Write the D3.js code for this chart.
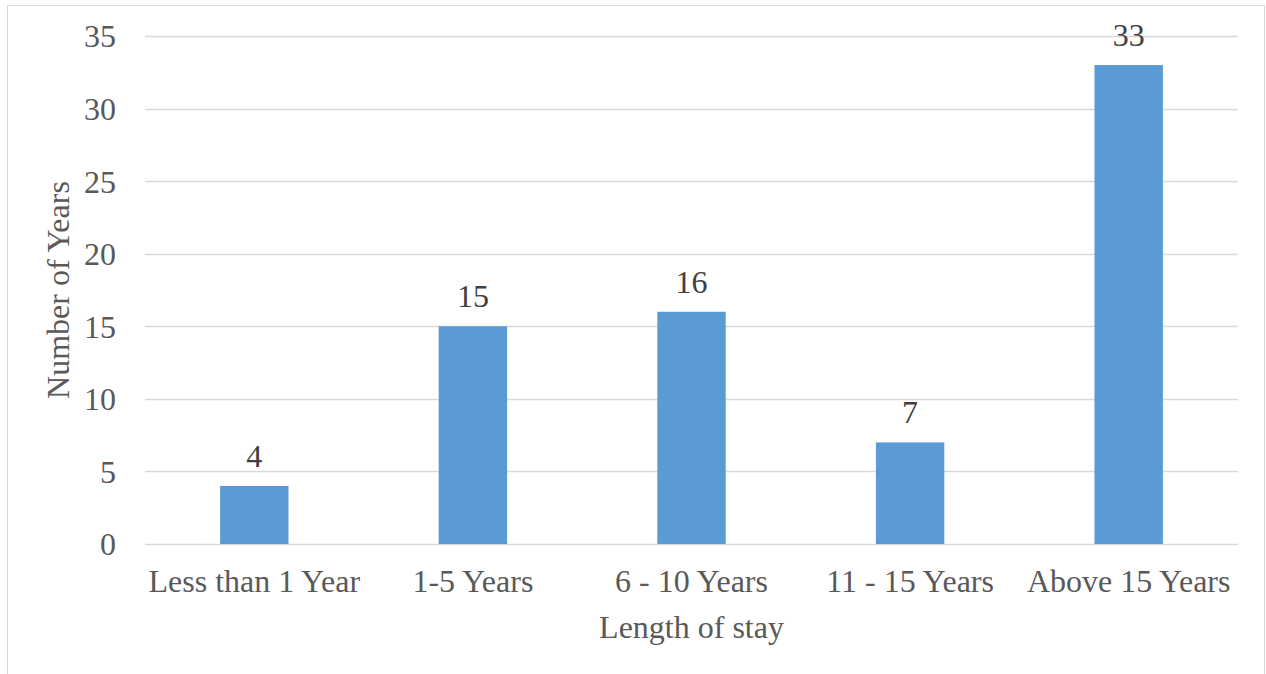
<!DOCTYPE html>
<html>
<head>
<meta charset="utf-8">
<script src="https://cdn.jsdelivr.net/npm/d3@7"></script>
<style>
  html, body { margin: 0; padding: 0; background: #fff; }
  svg { display: block; }
</style>
</head>
<body>
<script>
// Survey responses by length of stay
const categories = ["Less than 1 Year", "1-5 Years", "6 - 10 Years", "11 - 15 Years", "Above 15 Years"];
const counts = [4, 15, 16, 7, 33];
const yTicks = [0, 5, 10, 15, 20, 25, 30, 35];
const xTitle = "Length of stay";
const yTitle = "Number of Years";

const W = 1266, H = 674;
const plot = { left: 145, right: 1238, top: 36, bottom: 544 };
const FONT = "'Liberation Serif'";

const svg = d3.select("body").append("svg")
  .attr("width", W).attr("height", H);

// outer chart frame
svg.append("rect")
  .attr("x", 7.5).attr("y", 5.5)
  .attr("width", W - 9).attr("height", H + 10)
  .attr("fill", "none").attr("stroke", "#d9d9d9").attr("stroke-width", 1);

const x = d3.scaleBand()
  .domain(categories)
  .range([plot.left, plot.right])
  .paddingInner(0.687).paddingOuter(0.3435);

const y = d3.scaleLinear()
  .domain([0, 35])
  .range([plot.bottom, plot.top]);

// horizontal gridlines
svg.append("g")
  .selectAll("line")
  .data(yTicks)
  .join("line")
  .attr("x1", plot.left).attr("x2", plot.right)
  .attr("y1", d => Math.round(y(d)) + 0.5)
  .attr("y2", d => Math.round(y(d)) + 0.5)
  .attr("stroke", "#d9d9d9").attr("stroke-width", 1.3);

// y axis tick labels
const yAxis = d3.axisLeft(y).tickValues(yTicks).tickSize(0).tickPadding(0);
const gy = svg.append("g")
  .attr("transform", `translate(116,0)`)
  .call(yAxis)
  .attr("font-family", null)
  .attr("font-size", null);
gy.select(".domain").remove();
gy.selectAll("text")
  .style("font-family", FONT)
  .style("font-size", "32px")
  .attr("fill", "#595959")
  .attr("dy", "0.34em");

// bars
svg.append("g")
  .selectAll("rect")
  .data(counts)
  .join("rect")
  .attr("x", (d, i) => x(categories[i]))
  .attr("width", x.bandwidth())
  .attr("y", d => y(d))
  .attr("height", d => y(0) - y(d))
  .attr("fill", "#5b9bd5");

// value labels
svg.append("g")
  .selectAll("text")
  .data(counts)
  .join("text")
  .attr("x", (d, i) => x(categories[i]) + x.bandwidth() / 2)
  .attr("y", d => y(d) - 19)
  .attr("text-anchor", "middle")
  .style("font-family", FONT)
  .style("font-size", "32px")
  .attr("fill", "#404040")
  .text(d => d);

// x axis category labels
const xAxis = d3.axisBottom(x).tickSize(0).tickPadding(0);
const gx = svg.append("g")
  .attr("transform", `translate(0,${plot.bottom})`)
  .call(xAxis)
  .attr("font-family", null)
  .attr("font-size", null);
gx.select(".domain").remove();
gx.selectAll("text")
  .style("font-family", FONT)
  .style("font-size", "32px")
  .attr("fill", "#595959")
  .attr("dy", null)
  .attr("y", 48);

// axis titles
svg.append("text")
  .attr("x", (plot.left + plot.right) / 2)
  .attr("y", 638)
  .attr("text-anchor", "middle")
  .style("font-family", FONT)
  .style("font-size", "32px")
  .attr("fill", "#595959")
  .text(xTitle);

svg.append("text")
  .attr("transform", `translate(69,290) rotate(-90)`)
  .attr("text-anchor", "middle")
  .style("font-family", FONT)
  .style("font-size", "32px")
  .attr("fill", "#595959")
  .text(yTitle);
</script>
</body>
</html>
